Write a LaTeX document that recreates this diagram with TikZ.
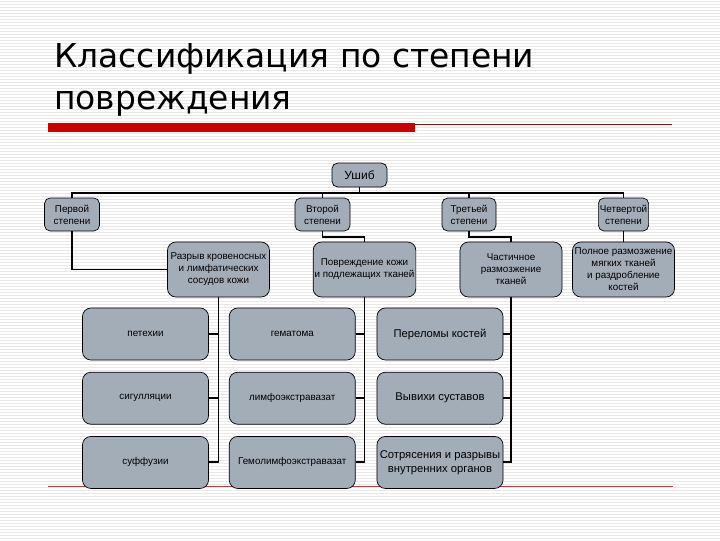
\documentclass[tikz,border=0pt]{standalone}
\usepackage{fontspec}
\setmainfont{Liberation Sans}
\newfontfamily\titlefont{DejaVu Sans}
\usetikzlibrary{positioning,calc}
\definecolor{slideGray}{RGB}{163,173,184}
\definecolor{barRed}{RGB}{204,0,0}
\definecolor{lineRed}{RGB}{140,20,20}

\begin{document}
\begin{tikzpicture}[x=0.025cm,y=-0.025cm,
  box/.style={draw,rounded corners=4pt,align=center,fill=slideGray,inner sep=1pt,font=\fontsize{7}{8.5}\selectfont,line width=0.5pt},
  head/.style={box,minimum height=0.825cm},
  mid/.style={box,rounded corners=6pt,minimum width=2.55cm,minimum height=1.375cm},
  leaf/.style={box,rounded corners=6pt,minimum width=3.15cm,minimum height=1.3cm},
  conn/.style={line width=1.4pt}
]
  \useasboundingbox (0,0) rectangle (720,540);
  % slide background
  \fill[white] (0,0) rectangle (720,540);
  \foreach \y in {1.5,4.5,...,540}
    \draw[black!9,line width=0.3pt] (0,\y) -- (720,\y);

  % title
  \node[anchor=base west,align=left,inner sep=0pt,font=\titlefont\fontsize{23.4}{29.8}\selectfont] (title) at (54,109) {Классификация по степени\\повреждения};
  \fill[barRed] (48,123) rectangle (415,132);
  \draw[lineRed,line width=0.6pt] (415,124) -- (672,124);
  \draw[lineRed!80,line width=0.6pt] (48,486) -- (673,486);

  % levels 0-2
  \node[box,minimum width=1.375cm,minimum height=0.6cm,font=\fontsize{8.5}{10}\selectfont] (ushib) at (359.5,175) {Ушиб};
  \node[head,minimum width=1.375cm] (perv) at (72,214.5) {Первой\\степени};
  \node[head,minimum width=1.375cm] (vtor) at (322.5,214.5) {Второй\\степени};
  \node[head,minimum width=1.35cm] (tret) at (469,214.5) {Третьей\\степени};
  \node[head,minimum width=1.2cm] (chet) at (623.5,214.5) {Четвертой\\степени};
  \node[mid] (razr) at (218.5,269.5) {Разрыв кровеносных\\и лимфатических\\сосудов кожи};
  \node[mid] (povr) at (364.5,269.5) {Повреждение кожи\\и подлежащих тканей};
  \node[mid] (chast) at (511,269.5) {Частичное\\размозжение\\тканей};
  \node[mid] (poln) at (623.5,269.5) {Полное размозжение\\мягких тканей\\и раздробление\\костей};

  % level 3
  \node[leaf] (pet) at (145.5,334) {петехии};
  \node[leaf,below=0.2875cm of pet] (sig) {сигулляции};
  \node[leaf,below=0.2875cm of sig] (suf) {суффузии};
  \node[leaf,right=0.5cm of pet] (gem) {гематома};
  \node[leaf,below=0.2875cm of gem] (limf) {лимфоэкстравазат};
  \node[leaf,below=0.2875cm of limf] (gemlimf) {Гемолимфоэкстравазат};
  \node[leaf,right=0.525cm of gem,font=\fontsize{8}{10}\selectfont] (perel) {Переломы костей};
  \node[leaf,below=0.2875cm of perel,font=\fontsize{8}{10}\selectfont] (vyv) {Вывихи суставов};
  \node[leaf,below=0.2875cm of vyv,font=\fontsize{8}{10}\selectfont] (sotr) {Сотрясения и разрывы\\внутренних органов};

  % connectors
  \foreach \n in {perv,vtor,tret,chet}
    \draw[conn] (ushib.south) -- ++(0,5.5) -| (\n.north);
  \draw[conn] (perv) |- (razr);
  \draw[conn] (vtor.south) -- ++(0,5.5) -| (povr.north);
  \draw[conn] (tret.south) -- ++(0,5.5) -| (chast.north);
  \draw[conn] (chet) -- (poln);
  \foreach \a/\b in {razr/pet,razr/sig,razr/suf,povr/gem,povr/limf,povr/gemlimf,chast/perel,chast/vyv,chast/sotr}
    \draw[conn] (\a) |- (\b);
\end{tikzpicture}
\end{document}
